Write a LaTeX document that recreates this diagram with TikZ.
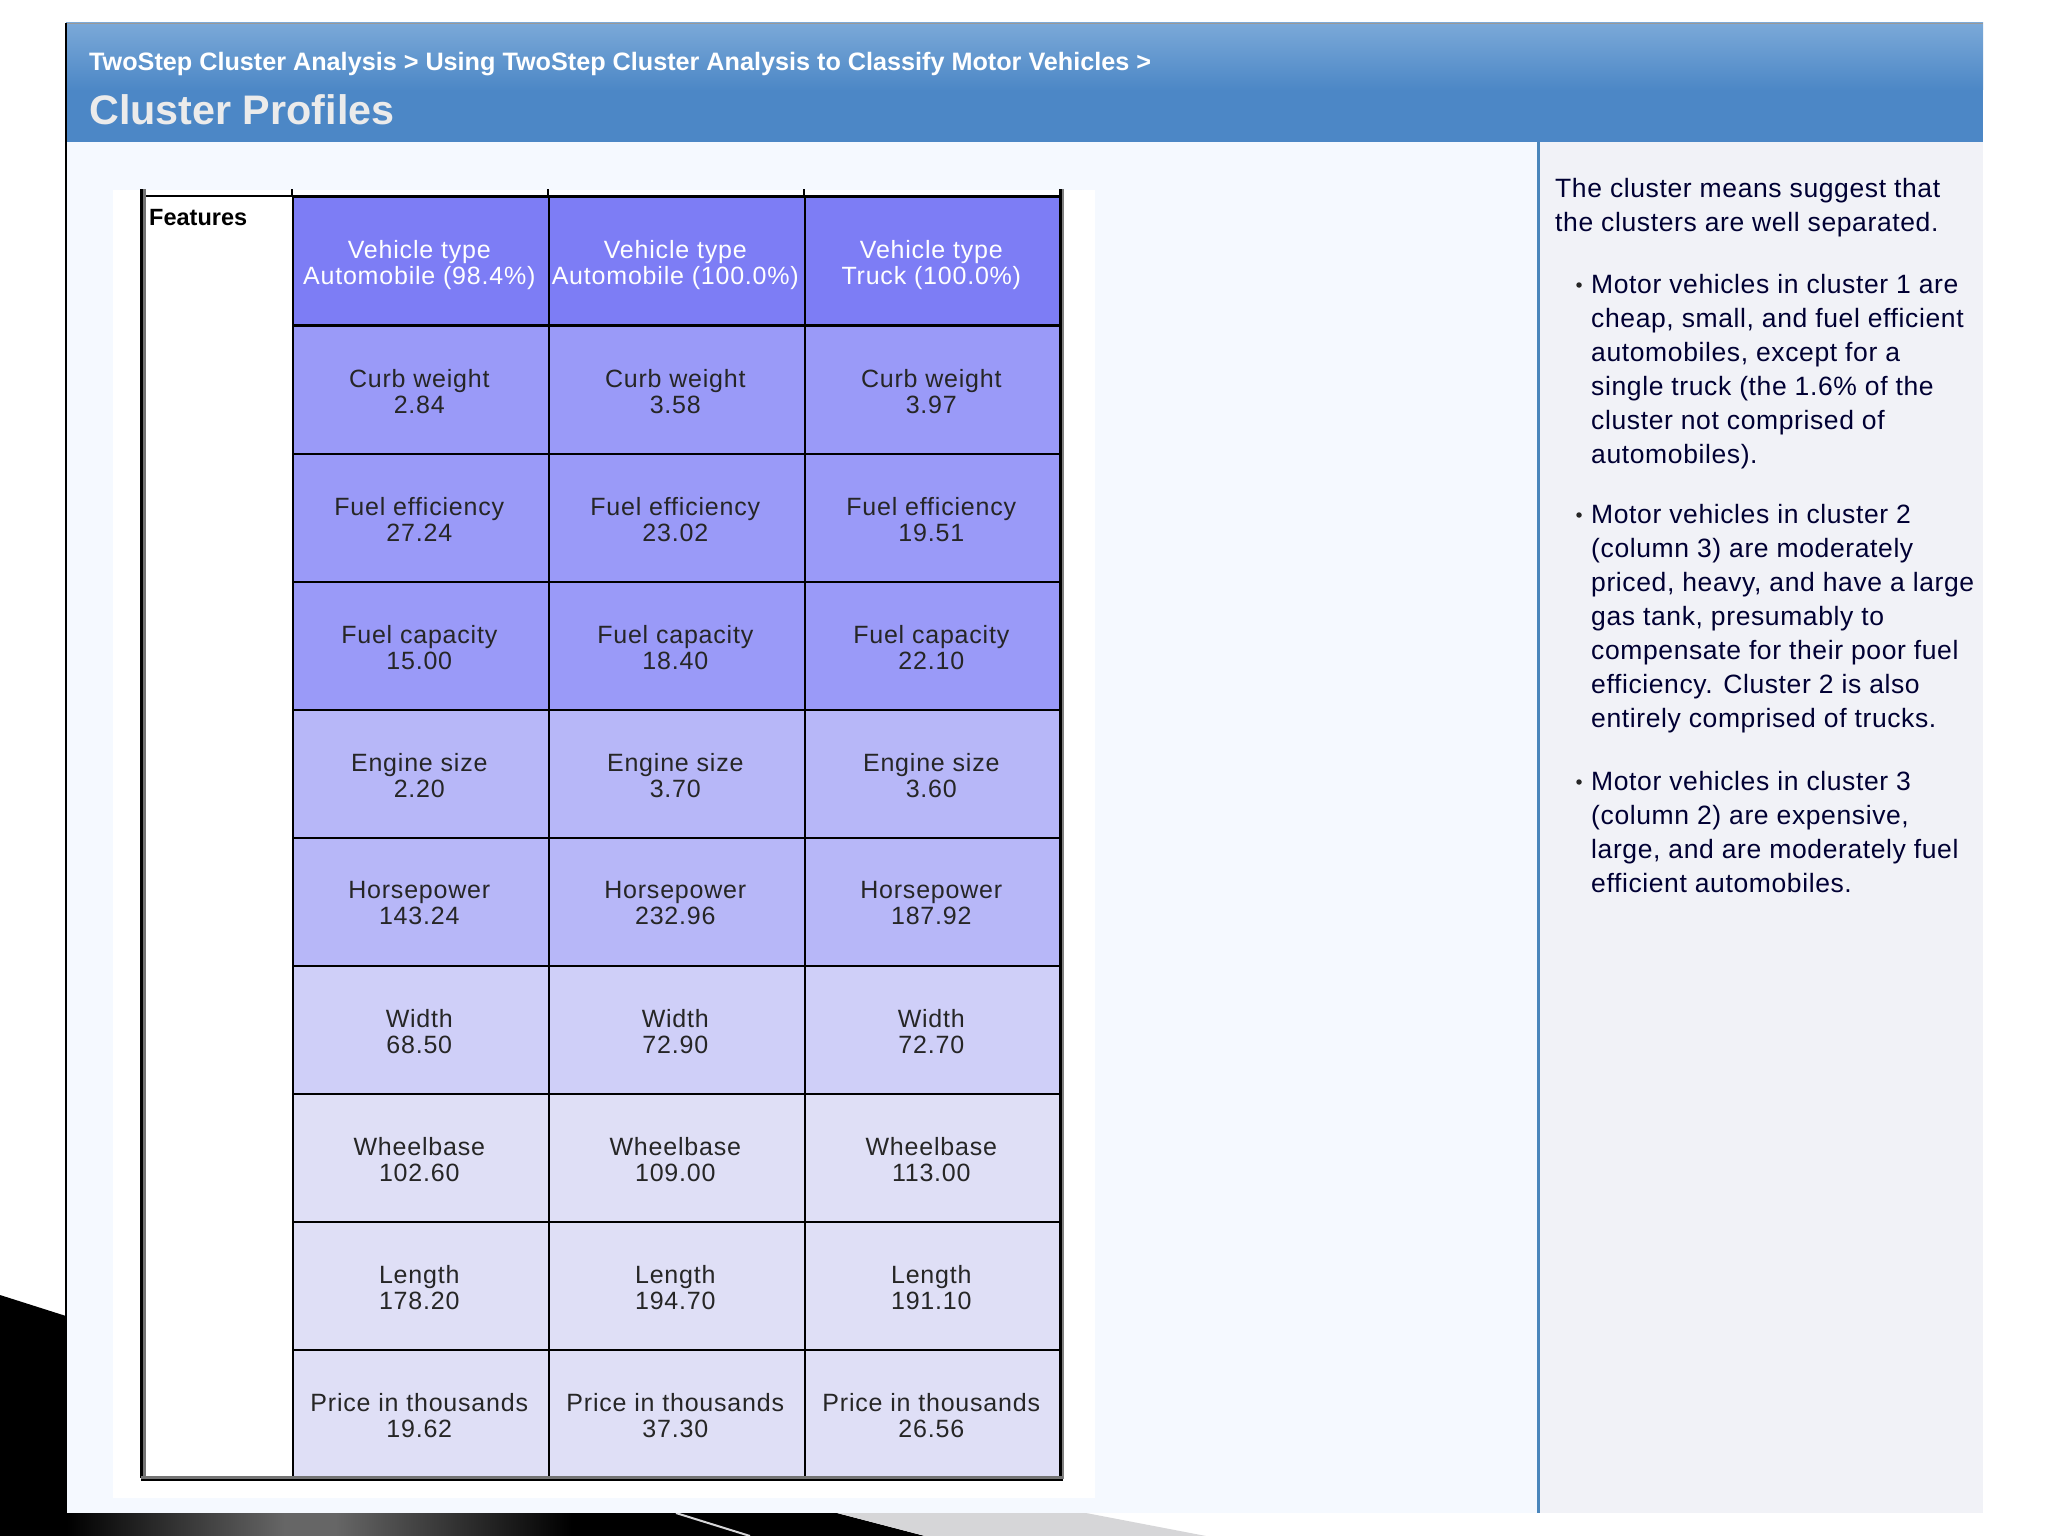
\documentclass[tikz,border=0pt]{standalone}
\usepackage{fontspec}
\setmainfont{Liberation Sans}
\definecolor{hdrtop}{HTML}{7BA9D8}
\definecolor{hdrbot}{HTML}{4C87C6}
\definecolor{leftbg}{HTML}{F5F9FF}
\definecolor{rightbg}{HTML}{F1F2F7}
\definecolor{rulecol}{HTML}{4A86BC}
\definecolor{rowA}{HTML}{7D7DF5}
\definecolor{rowB}{HTML}{9A9AF8}
\definecolor{rowC}{HTML}{B7B7F8}
\definecolor{rowD}{HTML}{CFCFF8}
\definecolor{rowE}{HTML}{DFDFF6}
\definecolor{ltgray}{HTML}{D6D6D8}
\tikzset{
  x=1pt,y=-1pt,
  cell/.style={draw=black,line width=1.6pt,minimum width=256pt,minimum height=128pt,anchor=north west,inner sep=0pt,
    text=black!85,font=\fontsize{25}{26}\selectfont\addfontfeature{LetterSpace=3.2},align=center,text depth=0pt},
  side/.style={anchor=north west,inner sep=0pt,align=left,text=black!80!blue,
    font=\fontsize{26.5}{34}\selectfont\addfontfeature{LetterSpace=2.3}},
  sidedot/.style={circle,fill=black!85,inner sep=0pt,minimum size=5.5pt},
}
\begin{document}
\begin{tikzpicture}
\useasboundingbox (0,0) rectangle (2048,1536);
\fill[white] (0,0) rectangle (2048,1536);
% lower slide decoration
\fill[black] (0,1295) -- (66,1316) -- (66,1536) -- (0,1536) -- cycle;
\shade[left color=black,right color=black!60!white] (66,1513) rectangle (285,1536);
\fill[black!60!white] (285,1513) rectangle (335,1536);
\shade[left color=black!60!white,right color=black] (335,1513) rectangle (572,1536);
\fill[black] (572,1513) rectangle (837,1536);
\fill[black] (837,1513) -- (925,1536) -- (837,1536) -- cycle;
\fill[ltgray] (837,1513) -- (1086,1513) -- (1206,1536) -- (925,1536) -- cycle;
\draw[ltgray,line width=2pt] (676,1513) -- (750,1536);
% panels
\fill[leftbg] (66,142) rectangle (1538,1513);
\fill[rightbg] (1538,142) rectangle (1983,1513);
\fill[white] (113,190) rectangle (1095,1498);
\draw[rulecol,line width=3pt] (1538,142) -- (1538,1513);
% header
\fill[hdrbot] (66,90) rectangle (1983,142);
\shade[top color=hdrtop,bottom color=hdrbot] (66,23) rectangle (1983,90);
\draw[black!40,line width=1pt] (66,23.5) -- (1983,23.5);
\draw[black,line width=2pt] (66,23) -- (66,1513);
\node[anchor=base west,inner sep=0pt,text=white,font=\bfseries\fontsize{25.2}{26}\selectfont] (crumb) at (89,71)
  {TwoStep Cluster Analysis > Using TwoStep Cluster Analysis to Classify Motor Vehicles >};
\node[anchor=base west,inner sep=0pt,text=black!8,font=\bfseries\fontsize{41.3}{42}\selectfont] (title) at (89,125) {Cluster Profiles};
% table
\foreach \r/\y/\col/\lab/\a/\b/\c in {
 b/325/rowB/Curb weight/2.84/3.58/3.97,
 c/453/rowB/Fuel efficiency/27.24/23.02/19.51,
 d/581/rowB/Fuel capacity/15.00/18.40/22.10,
 e/709/rowC/Engine size/2.20/3.70/3.60,
 f/837/rowC/Horsepower/143.24/232.96/187.92,
 g/965/rowD/Width/68.50/72.90/72.70,
 h/1093/rowE/Wheelbase/102.60/109.00/113.00,
 i/1221/rowE/Length/178.20/194.70/191.10,
 j/1349/rowE/Price in thousands/19.62/37.30/26.56}
{
 \node[cell,fill=\col] (\r1) at (292,\y) {\raisebox{-2.5pt}{\lab\kern3pt}\\\raisebox{-2.5pt}{\a\kern3pt}};
 \node[cell,fill=\col] (\r2) at (548,\y) {\raisebox{-2.5pt}{\lab\kern3pt}\\\raisebox{-2.5pt}{\b\kern3pt}};
 \node[cell,fill=\col] (\r3) at (804,\y) {\raisebox{-2.5pt}{\lab\kern3pt}\\\raisebox{-2.5pt}{\c\kern3pt}};
}
\node[cell,fill=rowA,text=white] (a1) at (292,196) {\raisebox{-2.5pt}{Vehicle type\kern3pt}\\\raisebox{-2.5pt}{Automobile (98.4\%)\kern3pt}};
\node[cell,fill=rowA,text=white] (a2) at (548,196) {\raisebox{-2.5pt}{Vehicle type\kern3pt}\\\raisebox{-2.5pt}{Automobile (100.0\%)\kern3pt}};
\node[cell,fill=rowA,text=white] (a3) at (804,196) {\raisebox{-2.5pt}{Vehicle type\kern3pt}\\\raisebox{-2.5pt}{Truck (100.0\%)\kern3pt}};
\draw[black,line width=2.2pt] (143,196) -- (1060,196);
\foreach \x in {292,548,804} \draw[black,line width=2pt] (\x,189) -- (\x,196);
\draw[black!55,line width=5pt] (143,189) -- (143,1478);
\draw[black,line width=2.2pt] (141.5,189) -- (141.5,1478);
\draw[black!50,line width=5pt] (1061,189) -- (1061,1479);
\draw[black,line width=3pt] (1060,189) -- (1060,1479);
\draw[black!55,line width=5pt] (141,1478) -- (1063,1478);
\draw[black,line width=2.5pt] (141,1480) -- (1063,1480);
\node[anchor=west,inner sep=0pt,font=\bfseries\fontsize{23.5}{24}\selectfont] (feat) at (149,218) {Features};
% side text
\node[side] (s0) at (1555,178) {The cluster means suggest that\\the clusters are well separated.};
\node[sidedot] (s1b) at (1579,285) {};
\node[side] (s1) at (1591,274) {Motor vehicles in cluster 1 are\\cheap, small, and fuel efficient\\automobiles, except for a\\single truck (the 1.6\% of the\\cluster not comprised of\\automobiles).};
\node[sidedot] (s2b) at (1579,515) {};
\node[side] (s2) at (1591,504) {Motor vehicles in cluster 2\\(column 3) are moderately\\priced, heavy, and have a large\\gas tank, presumably to\\compensate for their poor fuel\\efficiency. Cluster 2 is also\\entirely comprised of trucks.};
\node[sidedot] (s3b) at (1579,782) {};
\node[side] (s3) at (1591,771) {Motor vehicles in cluster 3\\(column 2) are expensive,\\large, and are moderately fuel\\efficient automobiles.};
\end{tikzpicture}
\end{document}
